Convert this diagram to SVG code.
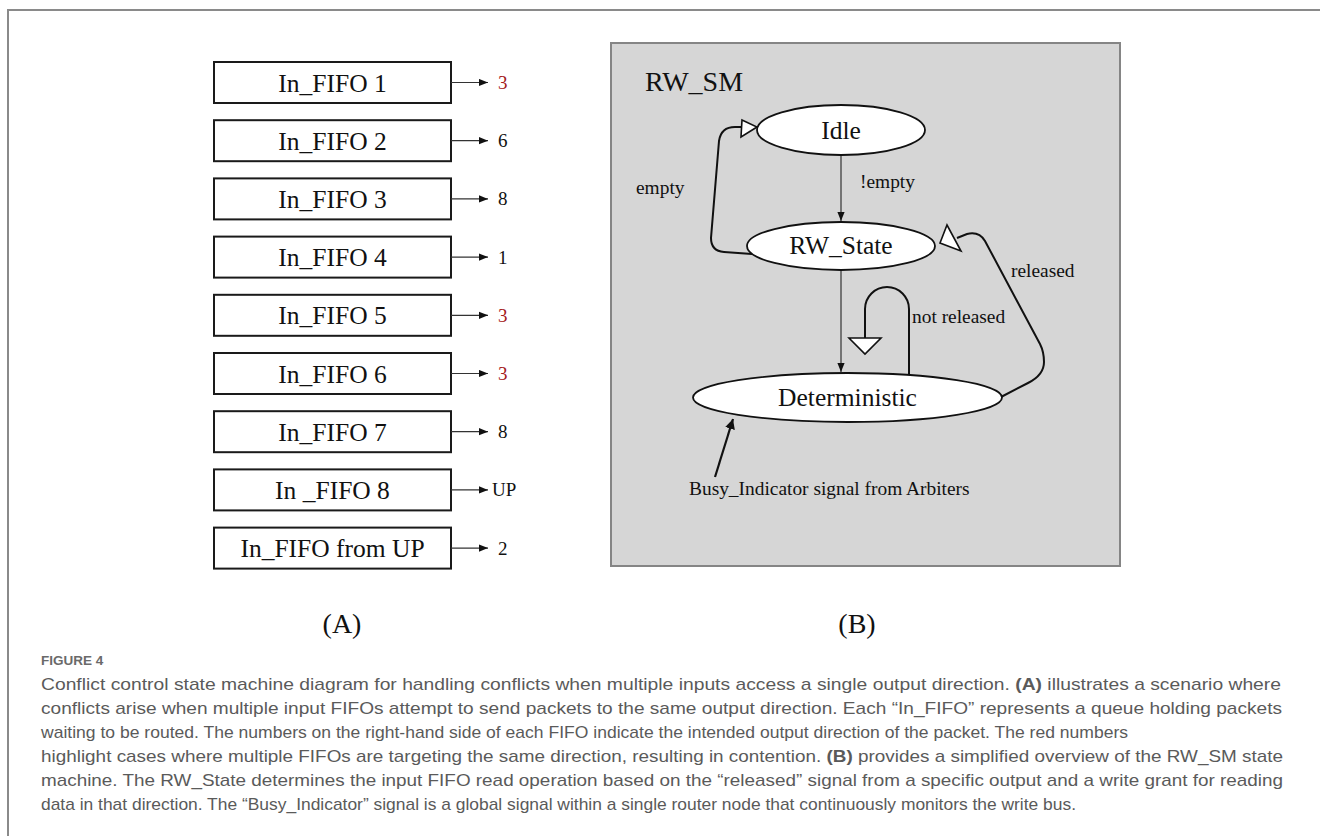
<svg xmlns="http://www.w3.org/2000/svg" width="1320" height="836" viewBox="0 0 1320 836">
<style>
.box{fill:#fff;stroke:#1a1a1a;stroke-width:2}
.ft{font-family:"Liberation Serif","Times New Roman",serif;font-size:25.5px;fill:#111;text-anchor:middle}
.num{font-family:"Liberation Serif","Times New Roman",serif;font-size:19px;fill:#111}
.red{fill:#a41a1a}
.thin{fill:none;stroke:#333;stroke-width:1.2}
.thick{fill:none;stroke:#111;stroke-width:2}
.st{fill:#fff;stroke:#111;stroke-width:1.8}
.lbl{font-family:"Liberation Serif","Times New Roman",serif;font-size:19.4px;fill:#111}
.sn{font-family:"Liberation Serif","Times New Roman",serif;font-size:25.5px;fill:#111;text-anchor:middle}
.hollow{fill:#fff;stroke:#111;stroke-width:1.6;stroke-linejoin:miter}
.cap{font-family:"Liberation Sans",Arial,sans-serif;font-size:17px;fill:#5a5a5a}
</style>
<defs>
<marker id="arr" viewBox="0 0 10 8" refX="10" refY="4" markerWidth="9" markerHeight="8" markerUnits="userSpaceOnUse" orient="auto">
<path d="M0,0 L10,4 L0,8 z" fill="#111"/>
</marker>
<marker id="arr2" viewBox="0 0 10 10" refX="10" refY="5" markerWidth="10" markerHeight="10" markerUnits="userSpaceOnUse" orient="auto">
<path d="M0,0 L10,5 L0,10 z" fill="#111"/>
</marker>
</defs>
<rect width="1320" height="836" fill="#fff"/>
<path d="M8,836 V10 H1320" fill="none" stroke="#8a8a8a" stroke-width="2"/>

<!-- Panel A -->
<g id="fifo1"><rect class="box" x="214" y="62" width="237" height="41"/><text class="ft" x="332.5" y="91.5">In_FIFO 1</text></g>
<g id="fifo2"><rect class="box" x="214" y="120.2" width="237" height="41"/><text class="ft" x="332.5" y="149.7">In_FIFO 2</text></g>
<g id="fifo3"><rect class="box" x="214" y="178.4" width="237" height="41"/><text class="ft" x="332.5" y="207.9">In_FIFO 3</text></g>
<g id="fifo4"><rect class="box" x="214" y="236.6" width="237" height="41"/><text class="ft" x="332.5" y="266.1">In_FIFO 4</text></g>
<g id="fifo5"><rect class="box" x="214" y="294.8" width="237" height="41"/><text class="ft" x="332.5" y="324.3">In_FIFO 5</text></g>
<g id="fifo6"><rect class="box" x="214" y="353" width="237" height="41"/><text class="ft" x="332.5" y="382.5">In_FIFO 6</text></g>
<g id="fifo7"><rect class="box" x="214" y="411.2" width="237" height="41"/><text class="ft" x="332.5" y="440.7">In_FIFO 7</text></g>
<g id="fifo8"><rect class="box" x="214" y="469.4" width="237" height="41"/><text class="ft" x="332.5" y="498.9">In _FIFO 8</text></g>
<g id="fifoup"><rect class="box" x="214" y="527.6" width="237" height="41"/><text class="ft" x="332.5" y="557.1">In_FIFO from UP</text></g>

<g id="fifo-connectors">
<line class="thin" x1="451" y1="82.5" x2="488" y2="82.5" marker-end="url(#arr)"/>
<line class="thin" x1="451" y1="140.7" x2="488" y2="140.7" marker-end="url(#arr)"/>
<line class="thin" x1="451" y1="198.9" x2="488" y2="198.9" marker-end="url(#arr)"/>
<line class="thin" x1="451" y1="257.1" x2="488" y2="257.1" marker-end="url(#arr)"/>
<line class="thin" x1="451" y1="315.3" x2="488" y2="315.3" marker-end="url(#arr)"/>
<line class="thin" x1="451" y1="373.5" x2="488" y2="373.5" marker-end="url(#arr)"/>
<line class="thin" x1="451" y1="431.7" x2="488" y2="431.7" marker-end="url(#arr)"/>
<line class="thin" x1="451" y1="489.9" x2="488" y2="489.9" marker-end="url(#arr)"/>
<line class="thin" x1="451" y1="548.1" x2="488" y2="548.1" marker-end="url(#arr)"/>
</g>
<g id="fifo-outputs">
<text class="num red" x="498" y="89">3</text>
<text class="num" x="498" y="147.2">6</text>
<text class="num" x="498" y="205.4">8</text>
<text class="num" x="498" y="263.6">1</text>
<text class="num red" x="498" y="321.8">3</text>
<text class="num red" x="498" y="380">3</text>
<text class="num" x="498" y="438.2">8</text>
<text class="num" x="492" y="496.4">UP</text>
<text class="num" x="498" y="554.6">2</text>
</g>

<!-- Panel B -->
<rect x="611" y="43" width="509" height="523" fill="#d6d6d6" stroke="#858585" stroke-width="2"/>
<text x="645" y="91" font-family="Liberation Serif, Times New Roman, serif" font-size="28" fill="#111">RW_SM</text>

<g id="connectors">
<line class="thin" x1="841" y1="155" x2="841" y2="221" marker-end="url(#arr)"/>
<line class="thin" x1="841" y1="270" x2="841" y2="372" marker-end="url(#arr)"/>
<path class="thick" d="M752,254 L724,252 Q711,251 711,238 L719,141 Q721,127 735,127 L742,127"/>
<polygon class="hollow" points="742,120 741,137 757,127"/>
<path class="thick" d="M1001,397 L1028,383 Q1044,375 1044,362 Q1044,352 1040,344 L985,241 Q979,231 967,234 L957,238"/>
<polygon class="hollow" points="940,243 947,225 961,251"/>
<path class="thick" d="M909,375 L909,309 A22,22 0 0 0 865,309 L865,338"/>
<polygon class="hollow" points="849,338 881,338 865,354"/>
<line x1="715" y1="477" x2="733" y2="419" stroke="#111" stroke-width="2.2" marker-end="url(#arr2)"/>
<text class="lbl" x="860" y="188">!empty</text>
<text class="lbl" x="636" y="194">empty</text>
<text class="lbl" x="1011" y="277">released</text>
<text class="lbl" x="912" y="323">not released</text>
<text class="lbl" x="689" y="495">Busy_Indicator signal from Arbiters</text>
</g>

<g id="idle"><ellipse class="st" cx="841" cy="130" rx="84" ry="25"/><text class="sn" x="841" y="139">Idle</text></g>
<g id="rwstate"><ellipse class="st" cx="841" cy="246" rx="94" ry="24"/><text class="sn" x="841" y="254">RW_State</text></g>
<g id="deterministic"><ellipse class="st" cx="847.5" cy="397.5" rx="154.5" ry="24.5"/><text class="sn" x="847.5" y="406">Deterministic</text></g>

<text x="342" y="633" font-family="Liberation Serif, Times New Roman, serif" font-size="28" fill="#111" text-anchor="middle">(A)</text>
<text x="857" y="633" font-family="Liberation Serif, Times New Roman, serif" font-size="28" fill="#111" text-anchor="middle">(B)</text>

<text x="41" y="665" font-family="Liberation Sans, Arial, sans-serif" font-size="13.5" font-weight="bold" fill="#6a6a6a">FIGURE 4</text>
<text class="cap" x="41" y="690" textLength="1240" lengthAdjust="spacingAndGlyphs">Conflict control state machine diagram for handling conflicts when multiple inputs access a single output direction. <tspan font-weight="bold">(A)</tspan> illustrates a scenario where</text>
<text class="cap" x="41" y="714" textLength="1241" lengthAdjust="spacingAndGlyphs">conflicts arise when multiple input FIFOs attempt to send packets to the same output direction. Each “In_FIFO” represents a queue holding packets</text>
<text class="cap" x="41" y="738" textLength="1087" lengthAdjust="spacingAndGlyphs">waiting to be routed. The numbers on the right-hand side of each FIFO indicate the intended output direction of the packet. The red numbers</text>
<text class="cap" x="41" y="762" textLength="1242" lengthAdjust="spacingAndGlyphs">highlight cases where multiple FIFOs are targeting the same direction, resulting in contention. <tspan font-weight="bold">(B)</tspan> provides a simplified overview of the RW_SM state</text>
<text class="cap" x="41" y="786" textLength="1242" lengthAdjust="spacingAndGlyphs">machine. The RW_State determines the input FIFO read operation based on the “released” signal from a specific output and a write grant for reading</text>
<text class="cap" x="41" y="810" textLength="1035" lengthAdjust="spacingAndGlyphs">data in that direction. The “Busy_Indicator” signal is a global signal within a single router node that continuously monitors the write bus.</text>
</svg>
